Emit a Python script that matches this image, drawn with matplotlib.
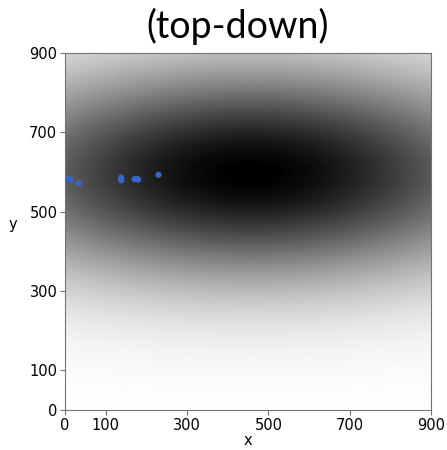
import matplotlib
matplotlib.use('Agg')
import matplotlib.pyplot as plt
import numpy as np

plt.rcParams['font.family'] = ['DejaVu Sans']

# Background density: centre and spread in data units
centre_x, centre_y = 455, 598
spread_x, spread_y = 480, 185
extent = [0, 900, 0, 900]

# Observed points
point_x = [8, 13, 34, 138, 138, 171, 176, 180, 230]
point_y = [583, 581, 572, 579, 586, 582, 583, 581, 593]

ticks = [0, 100, 300, 500, 700, 900]

gx = np.linspace(extent[0], extent[1], 451)
gy = np.linspace(extent[2], extent[3], 451)
GX, GY = np.meshgrid(gx, gy)
density = np.exp(-((GX - centre_x) ** 2 / (2 * spread_x ** 2)
                   + (GY - centre_y) ** 2 / (2 * spread_y ** 2)))

fig = plt.figure(figsize=(4.47, 4.5), dpi=100)
ax = fig.add_axes([65 / 447, 40 / 450, 366 / 447, 357 / 450])

ax.imshow(density, cmap='gray_r', origin='lower', extent=extent,
          vmin=0, vmax=1, aspect='auto', interpolation='bilinear')
ax.scatter(point_x, point_y, s=20, color='#3467c9', edgecolors='none', zorder=3)

ax.set_xlim(0, 900)
ax.set_ylim(0, 900)
ax.set_xticks(ticks)
ax.set_yticks(ticks)
ax.tick_params(labelsize=10.5, color='0.45', pad=2)
for s in ax.spines.values():
    s.set_color('0.45')
ax.set_xlabel('x', fontsize=10.5, labelpad=0)
ax.set_ylabel('y', fontsize=10.5, rotation=0, labelpad=12)

fig.text(0.531, 0.941, '(top-down)', ha='center', va='center',
         fontsize=27, family='Lato')

fig.savefig('out.png', dpi=100)
